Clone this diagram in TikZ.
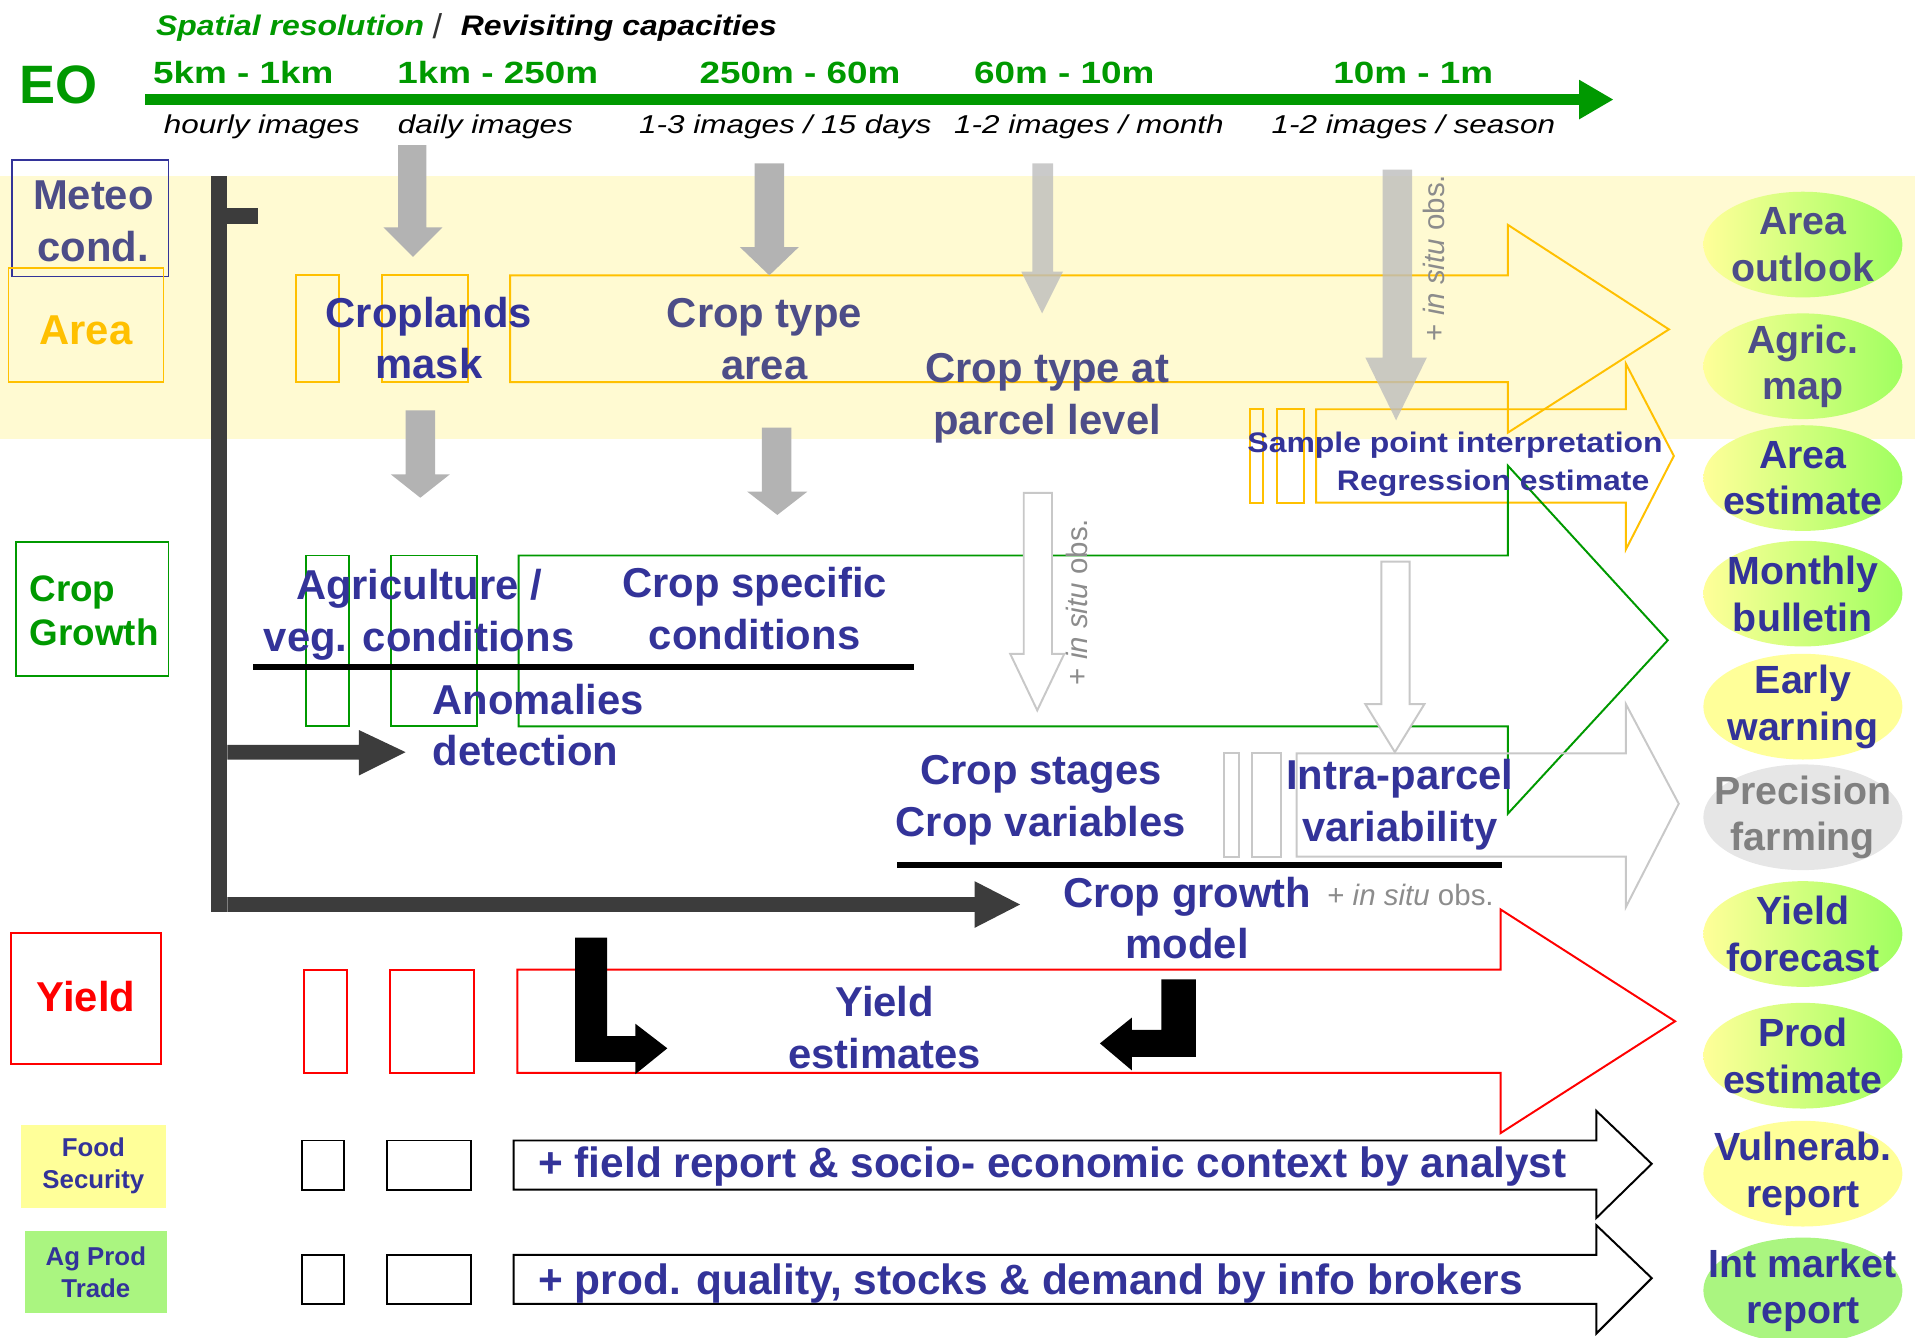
\documentclass[tikz,border=0pt]{standalone}
\usepackage{fontspec}
\setmainfont{Liberation Sans}
\usetikzlibrary{shapes.geometric,arrows.meta}
\definecolor{tblue}{HTML}{333399}
\definecolor{tgray}{HTML}{4D4D88}
\definecolor{eogreen}{HTML}{009900}
\definecolor{ayellow}{HTML}{FFC000}
\definecolor{bandyel}{HTML}{FFFAD2}
\definecolor{lgray}{HTML}{B3B3B3}
\definecolor{fgray}{HTML}{BDBDBD}
\definecolor{ogray}{HTML}{C8C8C8}
\definecolor{darkbar}{HTML}{3C3C3C}
\definecolor{pyel}{HTML}{FFFF99}
\definecolor{pgrn}{HTML}{A0FF60}
\definecolor{mgrn}{HTML}{AAF580}
\definecolor{pgray}{HTML}{E6E6E6}
\definecolor{precgray}{HTML}{808080}
\definecolor{insitugray}{HTML}{8C8C8C}
\newcommand{\blkarr}[9]{\draw[#1] (#2,#3) -- (#5,#3) -- (#5,#6) -- (#8,#9) -- (#5,#7) -- (#5,#4) -- (#2,#4) -- cycle;}
\newcommand{\dnarr}[8]{\path[#1] (#2,#4) -- (#3,#4) -- (#3,#5) -- (#7,#5) -- ({(#6+#7)/2},#8) -- (#6,#5) -- (#2,#5) -- cycle;}
\begin{document}
\begin{tikzpicture}[x=1pt,y=-1pt,
  every node/.style={inner sep=0pt, outer sep=0pt},
  big/.style={align=center, text=tblue, font=\bfseries\fontsize{34}{42}\selectfont},
  oval/.style={ellipse, minimum width=162pt, minimum height=86pt},
  gradoval/.style={oval, left color=pyel, right color=pgrn},
  otext/.style={align=center, text=tblue, font=\bfseries\fontsize{32}{38}\selectfont},
  yarrow/.style={draw=ayellow, line width=1.6pt},
  garrow/.style={draw=eogreen, line width=1.6pt},
  rarrow/.style={draw=red, line width=1.6pt},
  karrow/.style={draw=black, line width=1.6pt},
  sarrow/.style={draw=ogray, line width=1.6pt},
  solidgray/.style={fill=lgray},
  fadegray/.style={fill=fgray, fill opacity=0.8},
  hollowgray/.style={draw=ogray, line width=1.6pt, fill=white},
  insitu/.style={text=insitugray, font=\fontsize{24}{28}\selectfont},
  hdrres/.style={text=eogreen, font=\bfseries\fontsize{25}{28}\selectfont},
  hdrfreq/.style={font=\itshape\fontsize{21}{24}\selectfont},
]
\useasboundingbox (0,0) rectangle (1568,1088);
% yellow band
\fill[bandyel] (0,143) rectangle (1558,357);

% header
\node[anchor=west, text=eogreen, font=\bfseries\itshape\fontsize{23}{26}\selectfont] (sres) at (127,23) {\scalebox{1.13}[1]{Spatial resolution}};
\node[font=\fontsize{28}{30}\selectfont, text=black!80] (slash) at (356,21) {/};
\node[anchor=west, font=\bfseries\itshape\fontsize{23}{26}\selectfont] (revis) at (375,23) {\scalebox{1.13}[1]{Revisiting capacities}};
\node[text=eogreen, font=\bfseries\fontsize{44}{48}\selectfont] (eo) at (48,69) {EO};
\node[hdrres] (r1) at (198,59) {\scalebox{1.2}[1]{5km - 1km}};
\node[hdrres] (r2) at (405,59) {\scalebox{1.2}[1]{1km - 250m}};
\node[hdrres] (r3) at (651,59) {\scalebox{1.2}[1]{250m - 60m}};
\node[hdrres] (r4) at (866,59) {\scalebox{1.2}[1]{60m - 10m}};
\node[hdrres] (r5) at (1150,59) {\scalebox{1.2}[1]{10m - 1m}};
\coordinate (axS) at (118,81);
\coordinate (axE) at (1313,81);
\draw[eogreen, line width=9pt, -{Triangle[length=28pt,width=30pt]}] (axS) -- (axE);
\node[hdrfreq] (f1) at (213,103) {\scalebox{1.22}[1]{hourly images}};
\node[hdrfreq] (f2) at (395,103) {\scalebox{1.22}[1]{daily images}};
\node[hdrfreq] (f3) at (639,103) {\scalebox{1.22}[1]{1-3 images / 15 days}};
\node[hdrfreq] (f4) at (886,103) {\scalebox{1.22}[1]{1-2 images / month}};
\node[hdrfreq] (f5) at (1150,103) {\scalebox{1.22}[1]{1-2 images / season}};

% left label boxes
\draw[draw=tblue, line width=1.4pt] (10,130) rectangle (137,225);
\draw[draw=ayellow, line width=1.4pt] (7,218) rectangle (133,311);
\draw[draw=eogreen, line width=1.4pt] (13,441) rectangle (137,550);
\draw[draw=red, line width=1.4pt] (9,759) rectangle (131,866);
\node[big, text=tgray] (meteo) at (76,180) {Meteo\\cond.};
\node[big, text=ayellow] (area) at (70,269) {Area};
\node[anchor=west, align=left, text=eogreen, font=\bfseries\fontsize{30}{36}\selectfont] (cgrowth) at (24,497) {Crop\\Growth};
\node[big, text=red] (yieldlbl) at (70,811) {Yield};
\node[fill=pyel, minimum width=118pt, minimum height=68pt, align=center, text=tblue, font=\bfseries\fontsize{21}{26}\selectfont] (food) at (76,949) {Food\\Security};
\node[fill=mgrn, minimum width=116pt, minimum height=66pt, align=center, text=tblue, font=\bfseries\fontsize{21}{26}\selectfont] (agprod) at (78,1035) {Ag Prod\\Trade};

% block arrows and small boxes
% yellow A
\draw[yarrow] (241,224) rectangle (276,311);
\draw[yarrow] (311,224) rectangle (381,311);
\blkarr{yarrow}{415}{224}{311}{1227}{183}{352}{1358}{268}
% yellow B
\draw[yarrow] (1017,333) rectangle (1028,409);
\draw[yarrow] (1039,333) rectangle (1061,409);
\blkarr{yarrow}{1071}{333}{409}{1323}{296}{447}{1362}{371}
% green
\draw[garrow] (249,452) rectangle (284,591);
\draw[garrow] (318,452) rectangle (388,591);
\blkarr{garrow}{422}{452}{591}{1227}{379}{662}{1357}{521}
% light gray
\draw[sarrow] (996,613) rectangle (1008,697);
\draw[sarrow] (1019,613) rectangle (1042,697);
\blkarr{sarrow}{1055}{613}{697}{1323}{573}{738}{1366}{654}
% red
\draw[rarrow] (247,789) rectangle (282,873);
\draw[rarrow] (317,789) rectangle (386,873);
\blkarr{rarrow}{421}{789}{873}{1221}{740}{922}{1363}{831}
% black 1
\draw[karrow] (246,928) rectangle (280,968);
\draw[karrow] (315,928) rectangle (383,968);
\blkarr{karrow}{418}{928}{968}{1299}{904}{991}{1344}{947}
% black 2
\draw[karrow] (246,1021) rectangle (280,1061);
\draw[karrow] (315,1021) rectangle (383,1061);
\blkarr{karrow}{418}{1021}{1061}{1299}{997}{1085}{1344}{1040}

% ellipses
\node[gradoval] (o1) at (1467,199) {};
\node[gradoval] (o2) at (1467,298) {};
\node[gradoval] (o3) at (1467,389) {};
\node[gradoval] (o4) at (1467,483) {};
\node[oval, fill=pyel] (o5) at (1467,575) {};
\node[oval, fill=pgray] (o6) at (1467,665) {};
\node[gradoval] (o7) at (1467,760) {};
\node[gradoval] (o8) at (1467,859) {};
\node[oval, fill=pyel] (o9) at (1467,955) {};
\node[oval, fill=mgrn] (o10) at (1467,1050) {};
\node[otext, text=tgray] (t1) at (o1) {Area\\outlook};
\node[otext, text=tgray] (t2) at (o2) {Agric.\\map};
\node[otext] (t3) at (o3) {Area\\estimate};
\node[otext] (t4) at (o4) {Monthly\\bulletin};
\node[otext] (t5) at (o5) {Early\\warning};
\node[otext, text=precgray] (t6) at (o6) {Precision\\farming};
\node[otext] (t7) at (o7) {Yield\\forecast};
\node[otext] (t8) at (o8) {Prod\\estimate};
\node[otext] (t9) at (o9) {Vulnerab.\\report};
\node[otext] (t10) at (o10) {Int market\\report};

% gray down arrows
\dnarr{solidgray}{324}{347}{118}{185}{312}{360}{209}
\dnarr{solidgray}{330}{354}{334}{386}{318}{366}{405}
\dnarr{solidgray}{614}{638}{133}{201}{602}{650}{224}
\dnarr{solidgray}{620}{644}{348}{400}{608}{657}{419}
\dnarr{fadegray}{840}{857}{133}{221}{831}{865}{255}
\dnarr{fadegray}{1125}{1149}{138}{291}{1111}{1161}{342}
\dnarr{hollowgray}{833}{856}{401}{532}{822}{866}{578}
\dnarr{hollowgray}{1124}{1147}{457}{573}{1111}{1159}{612}

% dark bar with arrows
\fill[darkbar] (172,143) rectangle (185,742);
\fill[darkbar] (185,169) rectangle (210,182);
\fill[darkbar] (185,606) -- (292,606) -- (292,594) -- (330,612) -- (292,631) -- (292,618) -- (185,618) -- cycle;
\fill[darkbar] (185,730) -- (793,730) -- (793,717) -- (830,736) -- (793,755) -- (793,742) -- (185,742) -- cycle;

% separators
\draw[line width=5pt] (206,543) -- (744,543);
\draw[line width=5pt] (730,704) -- (1222,704);

% black L arrows
\fill[black] (468,763) -- (494,763) -- (494,843) -- (517,843) -- (517,833) -- (543,853) -- (517,874) -- (517,864) -- (468,864) -- cycle;
\fill[black] (945,797) -- (973,797) -- (973,860) -- (921,860) -- (921,871) -- (895,849) -- (921,828) -- (921,838) -- (945,838) -- cycle;

% in situ labels
\node[insitu, rotate=90] (is1) at (1167,210) {+ \textit{in situ} obs.};
\node[insitu, rotate=90] (is2) at (876,490) {+ \textit{in situ} obs.};
\node[insitu, anchor=west] (is3) at (1080,728) {+ \textit{in situ} obs.};

% central texts
\node[big] (crop) at (349,275) {Croplands\\mask};
\node[big, text=tgray] (ctarea) at (622,276) {Crop type\\area};
\node[big, text=tgray] (parcel) at (852,324) {Crop type at\\parcel level};
\node[text=tblue, font=\bfseries\fontsize{23}{26}\selectfont] (sample) at (1184,362) {\scalebox{1.13}[1]{Sample point interpretation}};
\node[text=tblue, font=\bfseries\fontsize{23}{26}\selectfont] (regr) at (1215,393) {\scalebox{1.13}[1]{Regression estimate}};
\node[big] (agri) at (341,500) {Agriculture /\\veg. conditions};
\node[big] (cspec) at (614,495) {Crop specific\\conditions};
\node[big, align=left, anchor=west] (anom) at (352,590) {Anomalies\\detection};
\node[big] (stages) at (847,651) {Crop stages\\Crop variables};
\node[big] (intra) at (1139,655) {Intra-parcel\\variability};
\node[big] (cgm) at (966,747) {Crop growth\\model};
\node[big] (yest) at (720,836) {Yield\\estimates};
\node[anchor=west, text=tblue, font=\bfseries\fontsize{34.5}{38}\selectfont] (field) at (438,949) {+ field report \& socio- economic context by analyst};
\node[anchor=west, text=tblue, font=\bfseries\fontsize{34.5}{38}\selectfont] (prodq) at (438,1044) {+ prod. quality, stocks \& demand by info brokers};
\end{tikzpicture}
\end{document}
